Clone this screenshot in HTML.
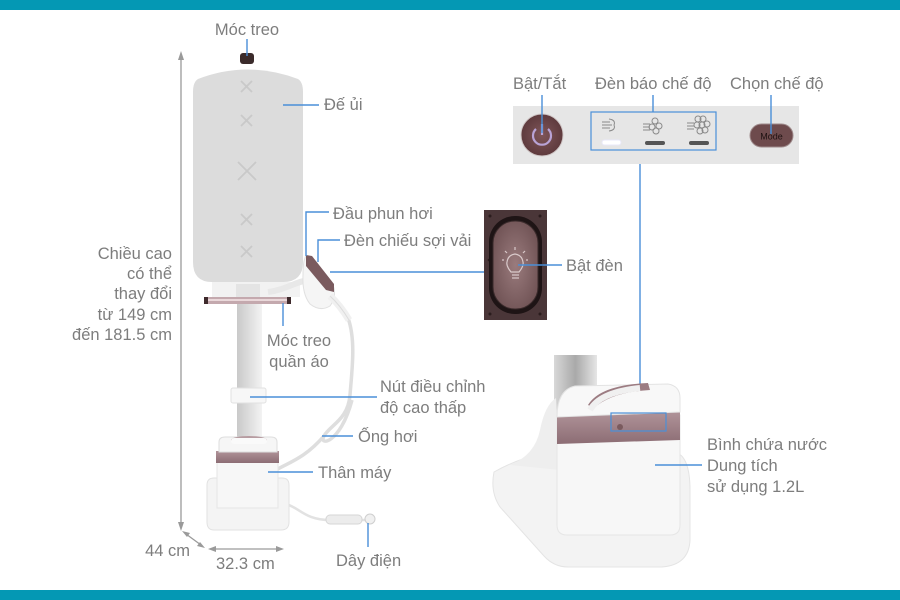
<!DOCTYPE html>
<html><head><meta charset="utf-8"><style>
html,body{margin:0;padding:0;background:#fff;}
svg{display:block;}
text{font-family:"Liberation Sans",sans-serif;font-size:16.5px;fill:#7d7d7d;}
</style></head><body>
<svg width="900" height="600" viewBox="0 0 900 600" xmlns="http://www.w3.org/2000/svg">
<defs>
<linearGradient id="pole" x1="0" x2="1"><stop offset="0" stop-color="#c9c9c9"/><stop offset="0.6" stop-color="#e2e2e2"/><stop offset="1" stop-color="#f3f3f3"/></linearGradient>
<linearGradient id="pole2" x1="0" x2="1"><stop offset="0" stop-color="#d8d8d8"/><stop offset="0.5" stop-color="#a9a9a9"/><stop offset="1" stop-color="#e6e6e6"/></linearGradient>
<linearGradient id="band" x1="0" y1="0" x2="0" y2="1"><stop offset="0" stop-color="#b09399"/><stop offset="1" stop-color="#8c6d74"/></linearGradient>
<radialGradient id="btn" cx="0.5" cy="0.5" r="0.5"><stop offset="0" stop-color="#7e5558"/><stop offset="1" stop-color="#5e3a3d"/></radialGradient>
<radialGradient id="oval" cx="0.5" cy="0.5" r="0.6"><stop offset="0" stop-color="#9a7b7d"/><stop offset="1" stop-color="#6e5153"/></radialGradient>
</defs>
<rect x="0" y="0" width="900" height="10" fill="#0498b4"/>
<rect x="0" y="590" width="900" height="10" fill="#0498b4"/>

<!-- LEFT MACHINE -->
<line x1="181" y1="58" x2="181" y2="524" stroke="#9a9a9a" stroke-width="1.3"/>
<polygon points="181,51 178,60 184,60" fill="#9a9a9a"/>
<polygon points="181,531 178,522 184,522" fill="#9a9a9a"/>
<line x1="186" y1="534" x2="201" y2="545" stroke="#9a9a9a" stroke-width="1.3"/>
<polygon points="182,531 190,533 187,537" fill="#9a9a9a"/>
<polygon points="205,548 197,546 200,542" fill="#9a9a9a"/>
<line x1="214" y1="549" x2="278" y2="549" stroke="#9a9a9a" stroke-width="1.3"/>
<polygon points="208,549 216,546 216,552" fill="#9a9a9a"/>
<polygon points="284,549 276,546 276,552" fill="#9a9a9a"/>

<path d="M348 318 C356 340 352 370 350 395 C348 420 330 425 324 436 C318 446 340 445 352 400 M324 436 C305 458 290 462 276 470" fill="none" stroke="#dedede" stroke-width="3.5"/>
<path d="M286 504 C300 508 305 520 330 520 L366 520" fill="none" stroke="#e2e2e2" stroke-width="2.5"/>
<rect x="326" y="515" width="36" height="9" rx="4" fill="#ececec" stroke="#d6d6d6"/>
<circle cx="370" cy="519" r="5" fill="#f0f0f0" stroke="#cfcfcf"/>

<rect x="237" y="300" width="25" height="142" fill="url(#pole)"/>
<path d="M212 282 L300 282 L300 297 L212 297 Z" fill="#f2f2f2"/>
<rect x="236" y="284" width="24" height="14" fill="#e4e4e4"/>
<path d="M268 292 C285 290 295 282 308 280" stroke="#e8e8e8" stroke-width="6" fill="none"/>
<rect x="204" y="297" width="87" height="7" rx="2" fill="#c4a9ae"/>
<rect x="207" y="299" width="81" height="2" fill="#ead8da"/>
<rect x="204" y="297" width="4" height="7" fill="#3e2a2c"/>
<rect x="287" y="297" width="4" height="7" fill="#3e2a2c"/>

<path d="M198 79 Q247 60 298 79 Q303 82 303 92 L303 262 Q303 282 283 282 L212 282 Q193 282 193 262 L193 92 Q193 82 198 79 Z" fill="#dcdcdc"/>
<g stroke="#c9c9c9" stroke-width="1.8">
<line x1="241" y1="81" x2="252" y2="92"/><line x1="252" y1="81" x2="241" y2="92"/>
<line x1="241" y1="115" x2="252" y2="126"/><line x1="252" y1="115" x2="241" y2="126"/>
<line x1="238" y1="162" x2="256" y2="180"/><line x1="256" y1="162" x2="238" y2="180"/>
<line x1="241" y1="214" x2="252" y2="225"/><line x1="252" y1="214" x2="241" y2="225"/>
<line x1="241" y1="246" x2="252" y2="257"/><line x1="252" y1="246" x2="241" y2="257"/>
</g>
<rect x="240" y="53" width="14" height="11" rx="3" fill="#3b2b2b"/>

<path d="M306 256 Q312 256 318 266 L334 288 Q336 298 330 306 Q320 312 310 304 Q302 294 303 275 Q303 260 306 256 Z" fill="#f5f5f5" stroke="#e0e0e0"/>
<path d="M306 255 L312 256 L334 284 L334 292 L326 290 L306 266 Z" fill="#7a5a5e"/>
<path d="M330 296 Q340 305 349 320" stroke="#f0f0f0" stroke-width="7" fill="none"/>
<path d="M330 296 Q340 305 349 320" stroke="#dcdcdc" stroke-width="1" fill="none"/>

<rect x="231" y="388" width="35" height="15" rx="2" fill="#f7f7f7" stroke="#e1e1e1"/>
<path d="M207 485 Q207 478 214 478 L282 478 Q289 478 289 485 L289 522 Q289 530 281 530 L214 530 Q207 530 207 522 Z" fill="#f4f4f4" stroke="#e2e2e2"/>
<rect x="217" y="460" width="61" height="48" fill="#f7f7f7" stroke="#e6e6e6"/>
<rect x="216" y="451" width="63" height="12" fill="url(#band)"/>
<path d="M219 452 L219 442 Q219 437 225 437 L271 437 Q277 437 277 442 L277 452 Z" fill="#f6f6f6" stroke="#dedede"/>
<ellipse cx="249" cy="440" rx="18" ry="4" fill="#b79ca1"/>
<rect x="231" y="438" width="36" height="6" rx="3" fill="#fafafa"/>

<g stroke="#4a8fd8" stroke-width="1.4" fill="none">
<line x1="247" y1="39" x2="247" y2="56"/>
<line x1="283" y1="105" x2="319" y2="105"/>
<polyline points="306,256 306,212 329,212"/>
<polyline points="318,262 318,240 340,240"/>
<line x1="330" y1="272" x2="484" y2="272"/>
<line x1="283" y1="303" x2="283" y2="326"/>
<line x1="250" y1="397" x2="377" y2="397"/>
<line x1="322" y1="436" x2="353" y2="436"/>
<line x1="268" y1="472" x2="313" y2="472"/>
<line x1="368" y1="523" x2="368" y2="547"/>
</g>

<text x="247" y="35" text-anchor="middle">Móc treo</text>
<text x="324" y="110">Đế ủi</text>
<text x="333" y="219">Đầu phun hơi</text>
<text x="344" y="246">Đèn chiếu sợi vải</text>
<g text-anchor="end">
<text x="172" y="259">Chiều cao</text>
<text x="172" y="279">có thể</text>
<text x="172" y="299">thay đổi</text>
<text x="172" y="320">từ 149 cm</text>
<text x="172" y="340">đến 181.5 cm</text>
<text x="190" y="556">44 cm</text>
</g>
<text x="299" y="346" text-anchor="middle">Móc treo</text>
<text x="299" y="367" text-anchor="middle">quần áo</text>
<text x="380" y="392">Nút điều chỉnh</text>
<text x="380" y="413">độ cao thấp</text>
<text x="358" y="442">Ống hơi</text>
<text x="318" y="478">Thân máy</text>
<text x="336" y="566">Dây điện</text>
<text x="216" y="569">32.3 cm</text>

<!-- BULB PANEL -->
<rect x="484" y="210" width="63" height="110" fill="#4a3638"/>
<g fill="#2a1c1d">
<circle cx="490" cy="216" r="1.5"/><circle cx="540" cy="216" r="1.5"/><circle cx="490" cy="314" r="1.5"/><circle cx="540" cy="314" r="1.5"/>
<circle cx="489" cy="260" r="1.3"/><circle cx="542" cy="265" r="1.3"/>
</g>
<rect x="489" y="216" width="53" height="98" rx="26" fill="#1e1415"/>
<rect x="493" y="221" width="45" height="88" rx="22" fill="url(#oval)" stroke="#3a2a2b" stroke-width="1"/>
<g stroke="#d9c9ca" stroke-width="1.2" fill="none">
<path d="M511 272 Q506 266 507 262 Q508 255 515 254 Q522 255 523 262 Q524 266 519 272 Z"/>
<line x1="512" y1="275" x2="519" y2="275"/><line x1="512" y1="278" x2="519" y2="278"/>
<line x1="515" y1="247" x2="515" y2="250"/><line x1="505" y1="251" x2="507" y2="253"/><line x1="525" y1="251" x2="523" y2="253"/>
<line x1="502" y1="260" x2="504" y2="260"/><line x1="526" y1="260" x2="528" y2="260"/>
</g>
<line x1="518" y1="265" x2="562" y2="265" stroke="#4a8fd8" stroke-width="1.4"/>
<text x="566" y="271">Bật đèn</text>

<!-- CONTROL PANEL -->
<rect x="513" y="106" width="286" height="58" fill="#e6e6e6"/>
<circle cx="542" cy="135" r="21" fill="url(#btn)" stroke="#cfc6c6" stroke-width="1"/>
<path d="M536 129 A9 9 0 1 0 548 129" fill="none" stroke="#b9a3d6" stroke-width="2.2"/>
<line x1="542" y1="124" x2="542" y2="135" stroke="#b9a3d6" stroke-width="2.2"/>
<rect x="591" y="112" width="125" height="38" fill="none" stroke="#4a8fd8" stroke-width="1.2"/>
<g stroke="#8a8a8a" stroke-width="1" fill="none">
<path d="M602 122 L610 122 M602 125 L612 125 M602 128 L610 128"/><path d="M609 119 Q616 120 614 125 Q616 130 609 131"/>
<path d="M643 124 L650 124 M643 127 L650 127 M643 130 L650 130"/><circle cx="655" cy="121" r="3"/><circle cx="652" cy="127" r="3"/><circle cx="656" cy="131" r="3"/><circle cx="659" cy="126" r="3"/>
<path d="M687 123 L694 123 M687 126 L694 126 M687 129 L694 129"/><circle cx="698" cy="119" r="3"/><circle cx="703" cy="119" r="3"/><circle cx="697" cy="125" r="3"/><circle cx="702" cy="125" r="3"/><circle cx="707" cy="124" r="3"/><circle cx="700" cy="131" r="3"/><circle cx="705" cy="130" r="3"/>
</g>
<rect x="602" y="140" width="19" height="5" rx="2.5" fill="#ffffff" stroke="#e8e8f8"/>
<rect x="645" y="141" width="20" height="4" rx="2" fill="#555"/>
<rect x="689" y="141" width="20" height="4" rx="2" fill="#555"/>
<rect x="750" y="124" width="43" height="23" rx="11.5" fill="#6e4b4d" stroke="#9e8a8b"/>
<text x="771.5" y="139.5" text-anchor="middle" style="font-size:9px;fill:#1e1212;">Mode</text>
<g stroke="#4a8fd8" stroke-width="1.4" fill="none">
<line x1="542" y1="95" x2="542" y2="133"/>
<line x1="653" y1="95" x2="653" y2="112"/>
<line x1="771" y1="95" x2="771" y2="134"/>
<line x1="640" y1="164" x2="640" y2="412"/>
</g>
<text x="513" y="89">Bật/Tắt</text>
<text x="595" y="89">Đèn báo chế độ</text>
<text x="730" y="89">Chọn chế độ</text>

<!-- RIGHT BASE -->
<rect x="554" y="355" width="43" height="60" fill="url(#pole2)"/>
<path d="M494 472 Q515 460 540 454 L675 452 Q690 456 690 490 L690 540 Q689 565 662 567 L568 567 Q554 567 544 556 L500 507 Q490 492 494 472 Z" fill="#f3f3f3" stroke="#e4e4e4"/>
<path d="M510 465 Q535 455 540 430 Q545 405 556 398 L560 470 Z" fill="#eeeeee"/>
<path d="M557 415 L557 525 Q557 535 567 535 L670 535 Q680 535 680 525 L680 415 Z" fill="#f7f7f7" stroke="#e6e6e6"/>
<path d="M557 417 L680 412 L680 440 L557 444 Z" fill="url(#band)"/>
<path d="M557 417 Q557 390 575 386 L668 384 Q680 386 680 398 L680 412 Z" fill="#f8f8f8" stroke="#e3e3e3"/>
<path d="M588 405 Q600 385 648 383 L650 390 Q612 392 594 408 Z" fill="#9c7c82"/>
<path d="M590 410 Q600 392 640 388" stroke="#f0f0f0" stroke-width="6" fill="none"/>
<circle cx="620" cy="427" r="3" fill="#7a5a5e"/>
<rect x="611" y="413" width="55" height="18" fill="none" stroke="#4a8fd8" stroke-width="1.2"/>
<line x1="655" y1="465" x2="702" y2="465" stroke="#4a8fd8" stroke-width="1.4"/>
<text x="707" y="450">Bình chứa nước</text>
<text x="707" y="471">Dung tích</text>
<text x="707" y="492">sử dụng 1.2L</text>
</svg>
</body></html>
